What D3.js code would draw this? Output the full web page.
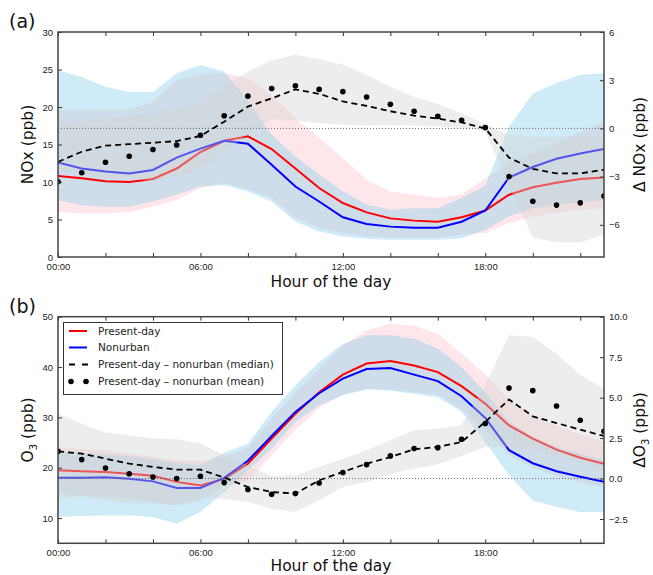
<!DOCTYPE html>
<html>
<head>
<meta charset="utf-8">
<script src="https://cdn.jsdelivr.net/npm/d3@7"></script>
<style>
  body { margin: 0; background: #fff; }
  svg { font-family: "DejaVu Sans", sans-serif; }
  .tick text { fill: #222; font-size: 9.5px; }
  .tick line { stroke: #333; }
</style>
</head>
<body>
<div id="chart"></div>
<script>
// hours of the day
var hours = [0,1,2,3,4,5,6,7,8,9,10,11,12,13,14,15,16,17,18,19,20,21,22,23];
var hourTicks = [0,2,4,6,8,10,12,14,16,18,20,22];

// (a) NOx, ppb (left axis)
var noxPresent    = [10.8,10.5,10.1,10.0,10.4,11.8,14.0,15.5,16.1,14.4,11.8,9.2,7.2,5.95,5.15,4.85,4.7,5.3,6.2,8.3,9.3,9.9,10.4,10.6];
var noxNonurban   = [12.6,11.8,11.4,11.15,11.6,13.25,14.45,15.5,15.1,12.3,9.4,7.4,5.3,4.4,4.05,3.9,3.9,4.7,6.2,10.6,12.0,13.1,13.8,14.4];
var noxPresentLo  = [6.0,5.8,5.8,6.0,6.7,7.6,9.2,9.9,9.0,7.9,5.2,3.9,3.2,2.75,2.6,2.6,2.6,3.0,3.2,4.5,5.4,5.9,6.3,6.5];
var noxPresentHi  = [19.6,19.6,19.6,19.7,20.7,23.6,24.4,24.5,23.9,21.6,18.5,15.9,13.2,10.3,8.75,8.3,7.9,8.3,10.5,12.5,13.8,15.2,16.7,18.0];
var noxNonurbanLo = [7.6,6.9,6.7,6.7,7.4,8.3,9.4,9.6,8.75,7.4,4.75,3.4,2.75,2.45,2.3,2.3,2.3,2.5,3.6,5.4,6.5,7.0,7.3,7.6];
var noxNonurbanHi = [24.9,24.0,22.7,22.0,22.0,24.5,25.6,24.75,20.8,16.3,13.4,11.0,8.75,7.0,6.3,6.5,6.5,7.9,9.5,17.4,21.8,23.2,24.3,24.5];
// (a) present-day minus nonurban, ppb (right axis)
var noxDiffMedian = [-2.08,-1.45,-1.07,-0.98,-0.89,-0.79,-0.47,0.42,1.36,1.87,2.43,2.15,1.68,1.40,1.07,0.79,0.61,0.37,0.0,-1.82,-2.52,-2.80,-2.80,-2.57];
var noxDiffMean   = [-3.32,-2.76,-2.10,-1.73,-1.31,-1.03,-0.42,0.79,2.01,2.48,2.66,2.43,2.29,1.96,1.50,1.07,0.75,0.51,0.05,-2.99,-4.53,-4.77,-4.63,-4.21];
var noxDiffLo     = [-2.62,-2.85,-3.04,-3.13,-3.27,-2.99,-2.52,-1.5,-0.33,0.56,0.51,0.33,0.23,0.19,0.19,0.19,0.14,0.05,-0.19,-3.55,-6.78,-7.1,-7.1,-6.6];
var noxDiffHi     = [0.37,0.51,0.65,0.75,0.93,1.21,1.54,2.62,3.55,4.25,4.58,4.30,3.97,3.32,2.59,1.96,1.54,0.93,0.28,-0.42,-0.5,-0.5,-0.5,-0.5];

// (b) O3, ppb (left axis)
var o3Present    = [19.5,19.3,19.15,18.8,18.4,17.2,16.5,17.8,20.8,25.8,30.7,35.0,38.5,40.7,41.2,40.3,39.0,36.2,32.7,28.4,25.8,23.6,22.0,20.8];
var o3Nonurban   = [18.0,18.0,18.1,17.8,17.3,16.0,16.0,18.0,21.4,26.3,31.1,34.8,37.7,39.6,39.8,38.5,37.2,34.2,29.9,23.5,20.9,19.3,18.2,17.2];
var o3PresentLo  = [14.9,14.5,14.2,13.9,13.2,12.5,13.5,16.5,17.2,22.5,27.5,31.8,34.6,35.6,35.6,35.0,34.5,31.5,27.5,22.5,20.0,18.3,17.0,16.2];
var o3PresentHi  = [24.1,23.8,23.5,22.8,22.2,21.5,21.3,22.2,24.0,29.7,35.0,39.7,44.3,47.3,48.6,48.2,46.6,42.7,38.5,33.5,30.5,28.3,26.6,25.1];
var o3NonurbanLo = [10.2,10.4,10.5,10.5,10.2,8.9,11.2,15.2,19.5,23.8,29.1,32.4,34.4,35.6,35.3,34.7,34.0,31.1,25.1,18.5,13.5,12.2,11.2,11.2];
var o3NonurbanHi = [23.3,23.0,22.7,22.3,21.8,21.0,20.5,23.0,24.8,31.1,36.4,41.0,44.6,46.3,46.3,45.6,43.7,40.0,35.0,29.1,26.1,24.1,22.8,21.5];
// (b) present-day minus nonurban, ppb (right axis)
var o3DiffMedian = [1.68,1.54,1.23,0.92,0.72,0.55,0.55,0.06,-0.52,-0.83,-0.93,-0.11,0.41,0.92,1.33,1.81,1.95,2.26,3.50,4.89,3.84,3.43,3.02,2.63];
var o3DiffMean   = [1.68,1.17,0.65,0.30,0.10,0.0,0.14,-0.25,-0.68,-0.97,-0.93,-0.27,0.37,0.86,1.40,1.85,1.91,2.43,3.40,5.59,5.43,4.48,3.60,2.92];
var o3DiffLo     = [-1.24,-1.13,-1.34,-1.54,-1.54,-1.65,-1.14,-1.24,-1.44,-1.86,-2.06,-1.34,-0.52,-0.21,0.30,0.61,0.87,1.40,1.95,1.95,1.8,1.4,1.0,0.5];
var o3DiffHi     = [4.01,3.39,2.84,2.67,2.47,2.43,2.16,1.44,0.82,0.16,0.20,0.72,1.23,1.75,2.37,2.98,3.09,3.29,5.8,8.85,8.75,7.72,6.38,5.56];

var legendLabels = ["Present-day", "Nonurban",
  "Present-day \u2013 nonurban (median)", "Present-day \u2013 nonurban (mean)"];

var width = 653, height = 575;
var svg = d3.select('#chart').append('svg').attr('width', width).attr('height', height);

var x = d3.scaleLinear().domain([0, 23]).range([58, 604]);

function pad(h) { return (h < 10 ? '0' : '') + h + ':00'; }

function drawPanel(p) {
  var yL = d3.scaleLinear().domain(p.leftDomain).range([p.bottom, p.top]);
  var yR = d3.scaleLinear().domain(p.rightDomain).range([p.bottom, p.top]);
  var g = svg.append('g');

  g.append('clipPath').attr('id', p.id + 'clip')
    .append('rect').attr('x', x(0)).attr('y', p.top)
    .attr('width', x(23) - x(0)).attr('height', p.bottom - p.top);
  var plot = g.append('g').attr('clip-path', 'url(#' + p.id + 'clip)');

  function band(lo, hi, ys) {
    return d3.area().x(function (d, i) { return x(hours[i]); })
      .y0(function (d, i) { return ys(lo[i]); })
      .y1(function (d, i) { return ys(hi[i]); })(hours);
  }
  function line(vals, ys) {
    return d3.line().x(function (d, i) { return x(hours[i]); })
      .y(function (d) { return ys(d); })(vals);
  }

  // left axis: bands then medians
  plot.append('path').attr('d', band(p.presentLo, p.presentHi, yL))
    .attr('fill', 'pink').attr('fill-opacity', 0.4);
  plot.append('path').attr('d', band(p.nonurbanLo, p.nonurbanHi, yL))
    .attr('fill', 'skyblue').attr('fill-opacity', 0.4);
  plot.append('path').attr('d', line(p.present, yL))
    .attr('fill', 'none').attr('stroke', '#ff0000').attr('stroke-width', 2);
  plot.append('path').attr('d', line(p.nonurban, yL))
    .attr('fill', 'none').attr('stroke', '#0000ff').attr('stroke-width', 2);

  // right (twin) axis drawn on top
  plot.append('path').attr('d', band(p.diffLo, p.diffHi, yR))
    .attr('fill', 'lightgrey').attr('fill-opacity', 0.4);
  plot.append('line').attr('x1', x(0)).attr('x2', x(23))
    .attr('y1', yR(0)).attr('y2', yR(0))
    .attr('stroke', '#666').attr('stroke-width', 1).attr('stroke-dasharray', '1,2');
  plot.append('path').attr('d', line(p.diffMedian, yR))
    .attr('fill', 'none').attr('stroke', '#000').attr('stroke-width', 1.8)
    .attr('stroke-dasharray', '6,4');
  plot.selectAll('circle.mean').data(p.diffMean).enter().append('circle')
    .attr('class', 'mean')
    .attr('cx', function (d, i) { return x(hours[i]); })
    .attr('cy', function (d) { return yR(d); })
    .attr('r', 2.8).attr('fill', '#000');

  // axes, ticks pointing inward
  g.append('g').attr('transform', 'translate(0,' + p.bottom + ')')
    .call(d3.axisBottom(x).tickValues(hourTicks).tickSize(-4).tickSizeOuter(0).tickPadding(6)
      .tickFormat(function (h) { return h % 6 === 0 ? pad(h) : ''; }))
    .call(function (a) { a.select('.domain').remove(); });
  g.append('g').attr('transform', 'translate(0,' + p.top + ')')
    .call(d3.axisTop(x).tickValues(hourTicks).tickSize(-4).tickSizeOuter(0).tickFormat(''))
    .call(function (a) { a.select('.domain').remove(); });
  g.append('g').attr('transform', 'translate(' + x(0) + ',0)')
    .call(d3.axisLeft(yL).tickValues(p.leftTicks).tickSize(-4).tickSizeOuter(0).tickPadding(5)
      .tickFormat(d3.format('d')))
    .call(function (a) { a.select('.domain').remove(); });
  g.append('g').attr('transform', 'translate(' + x(23) + ',0)')
    .call(d3.axisRight(yR).tickValues(p.rightTicks).tickSize(-4).tickSizeOuter(0).tickPadding(5)
      .tickFormat(d3.format(p.rightFormat)))
    .call(function (a) { a.select('.domain').remove(); });

  g.append('rect').attr('x', x(0)).attr('y', p.top)
    .attr('width', x(23) - x(0)).attr('height', p.bottom - p.top)
    .attr('fill', 'none').attr('stroke', '#444').attr('stroke-width', 1.5);

  // labels
  var mid = (p.top + p.bottom) / 2;
  var ll = g.append('text').attr('transform', 'translate(33,' + mid + ') rotate(-90)')
    .attr('text-anchor', 'middle').attr('font-size', 15.5).attr('fill', '#111');
  p.leftLabel(ll);
  var rl = g.append('text').attr('transform', 'translate(645,' + mid + ') rotate(-90)')
    .attr('text-anchor', 'middle').attr('font-size', 15.5).attr('fill', '#111');
  p.rightLabel(rl);
  g.append('text').attr('x', 331).attr('y', p.bottom + p.xLabelGap)
    .attr('text-anchor', 'middle').attr('font-size', 15.5).attr('fill', '#111')
    .text('Hour of the day');
  g.append('text').attr('x', 9).attr('y', p.top - 4)
    .attr('font-size', 19).attr('fill', '#111').text(p.tag);
  return g;
}

drawPanel({
  id: 'a', tag: '(a)', top: 32, bottom: 257, xLabelGap: 30,
  leftDomain: [0, 30], rightDomain: [-8, 6],
  leftTicks: [0, 5, 10, 15, 20, 25, 30], rightTicks: [-6, -3, 0, 3, 6], rightFormat: 'd',
  present: noxPresent, nonurban: noxNonurban,
  presentLo: noxPresentLo, presentHi: noxPresentHi,
  nonurbanLo: noxNonurbanLo, nonurbanHi: noxNonurbanHi,
  diffMedian: noxDiffMedian, diffMean: noxDiffMean, diffLo: noxDiffLo, diffHi: noxDiffHi,
  leftLabel: function (t) { t.text('NOx (ppb)'); },
  rightLabel: function (t) { t.text('\u0394 NOx (ppb)'); }
});

var gb = drawPanel({
  id: 'b', tag: '(b)', top: 316.7, bottom: 543.3, xLabelGap: 28,
  leftDomain: [5, 50], rightDomain: [-4, 10],
  leftTicks: [10, 20, 30, 40, 50], rightTicks: [-2.5, 0, 2.5, 5, 7.5, 10], rightFormat: '.1f',
  present: o3Present, nonurban: o3Nonurban,
  presentLo: o3PresentLo, presentHi: o3PresentHi,
  nonurbanLo: o3NonurbanLo, nonurbanHi: o3NonurbanHi,
  diffMedian: o3DiffMedian, diffMean: o3DiffMean, diffLo: o3DiffLo, diffHi: o3DiffHi,
  leftLabel: function (t) {
    t.append('tspan').text('O');
    t.append('tspan').attr('font-size', 10).attr('dy', 4).text('3');
    t.append('tspan').attr('dy', -4).text(' (ppb)');
  },
  rightLabel: function (t) {
    t.append('tspan').text('\u0394O');
    t.append('tspan').attr('font-size', 10).attr('dy', 4).text('3');
    t.append('tspan').attr('dy', -4).text(' (ppb)');
  }
});

// legend
var lg = gb.append('g');
lg.append('rect').attr('x', 63.5).attr('y', 322.5).attr('width', 219).attr('height', 72)
  .attr('fill', '#fff').attr('stroke', '#333').attr('stroke-width', 1);
var rows = [331, 347.5, 364.5, 381.5];
lg.append('line').attr('x1', 69).attr('x2', 87).attr('y1', rows[0]).attr('y2', rows[0])
  .attr('stroke', '#ff0000').attr('stroke-width', 2);
lg.append('line').attr('x1', 69).attr('x2', 87).attr('y1', rows[1]).attr('y2', rows[1])
  .attr('stroke', '#0000ff').attr('stroke-width', 2);
lg.append('line').attr('x1', 69).attr('x2', 88).attr('y1', rows[2]).attr('y2', rows[2])
  .attr('stroke', '#000').attr('stroke-width', 1.8).attr('stroke-dasharray', '6,7');
[71, 86].forEach(function (cx) {
  lg.append('circle').attr('cx', cx).attr('cy', rows[3]).attr('r', 2.8).attr('fill', '#000');
});
lg.selectAll('text.leg').data(legendLabels).enter().append('text')
  .attr('class', 'leg').attr('x', 98)
  .attr('y', function (d, i) { return rows[i] + 3.8; })
  .attr('font-size', 10.5).attr('fill', '#222')
  .text(function (d) { return d; });
</script>
</body>
</html>
